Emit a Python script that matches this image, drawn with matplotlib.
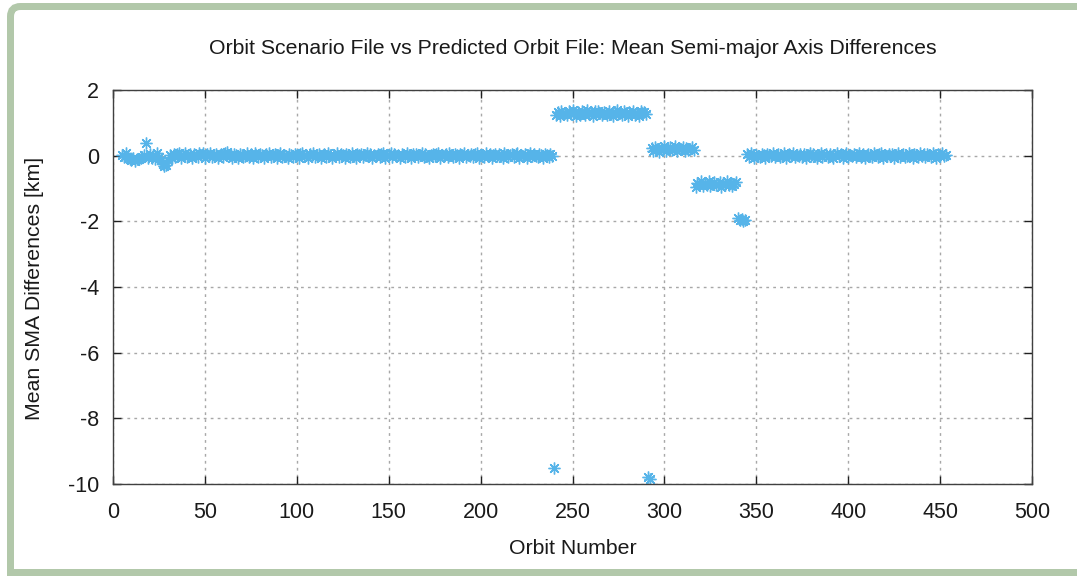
import matplotlib
matplotlib.use("Agg")
import matplotlib.pyplot as plt
from matplotlib.path import Path
from matplotlib.patches import PathPatch

plt.rcParams['font.family'] = ['Liberation Sans', 'DejaVu Sans']
plt.rcParams['axes.unicode_minus'] = False

title = "Orbit Scenario File vs Predicted Orbit File: Mean Semi-major Axis Differences"
xlabel = "Orbit Number"
ylabel = "Mean SMA Differences [km]"

x_ticks = [0, 50, 100, 150, 200, 250, 300, 350, 400, 450, 500]
y_ticks = [2, 0, -2, -4, -6, -8, -10]

# segment start orbits (one value per orbit)
seg_starts = [5, 240, 241, 291, 293, 317, 340, 345]

sma_seg1 = [
    0.02, -0.05, 0.07, -0.08, -0.10, -0.12, -0.06, -0.15, -0.09, -0.11,
    -0.07, -0.03, 0.02, 0.40, -0.08, 0.05, -0.06, 0.03, -0.10, 0.07,
    -0.04, -0.12, -0.24, -0.32, -0.27, -0.14, 0.03, -0.07, 0.06, -0.03,
    0.05, 0.08, -0.06, 0.02, 0.07, -0.05, 0.03, 0.06, -0.07, 0.04,
    0.01, -0.03, 0.07, 0.03, 0.09, -0.06, 0.04, 0.00, 0.08, -0.05,
    0.03, 0.06, -0.07, 0.01, 0.04, -0.03, 0.07, 0.10, -0.02, 0.03,
    -0.06, 0.04, 0.01, -0.08, 0.06, 0.03, -0.05, 0.00, 0.07, -0.03,
    0.04, -0.07, 0.08, 0.01, -0.05, 0.06, 0.03, -0.08, 0.04, 0.00,
    0.07, -0.03, 0.03, 0.06, -0.06, 0.01, 0.08, -0.05, 0.03, 0.00,
    -0.07, 0.04, 0.01, -0.03, 0.06, 0.03, -0.08, 0.04, 0.07, -0.02,
    0.03, -0.06, 0.04, 0.00, 0.08, -0.05, 0.01, 0.06, -0.07, 0.03,
    0.04, -0.03, 0.07, 0.01, -0.06, 0.03, 0.00, 0.08, -0.05, 0.06,
    0.01, -0.07, 0.04, 0.03, -0.03, 0.07, 0.00, -0.06, 0.04, 0.01,
    0.06, -0.05, 0.03, 0.08, -0.02, 0.04, -0.07, 0.03, 0.00, 0.06,
    -0.03, 0.04, 0.07, -0.06, 0.01, 0.03, 0.09, -0.05, 0.06, 0.00,
    0.03, -0.07, 0.04, 0.01, -0.03, 0.07, 0.03, -0.06, 0.04, 0.00,
    0.06, -0.05, 0.01, 0.08, -0.03, 0.04, 0.00, -0.07, 0.03, 0.06,
    -0.02, 0.04, 0.07, -0.06, 0.03, 0.00, 0.04, -0.05, 0.08, 0.01,
    -0.03, 0.06, 0.03, -0.07, 0.04, 0.01, 0.07, -0.05, 0.03, 0.00,
    0.06, -0.03, 0.04, 0.08, -0.06, 0.01, 0.03, -0.05, 0.07, 0.00,
    0.04, -0.07, 0.03, 0.06, -0.02, 0.04, 0.00, -0.06, 0.07, 0.03,
    -0.05, 0.01, 0.06, -0.03, 0.04, 0.08, -0.07, 0.03, 0.00, 0.04,
    -0.06, 0.03, 0.07, -0.02, 0.04, 0.00, -0.05, 0.06, 0.03, -0.07,
    0.04, 0.01, -0.03, 0.06, 0.00,
]
sma_outlier1 = [-9.52]
sma_seg2 = [
    1.24, 1.32, 1.20, 1.37, 1.28, 1.31, 1.23, 1.35, 1.27, 1.38,
    1.29, 1.21, 1.33, 1.25, 1.36, 1.30, 1.24, 1.39, 1.28, 1.32,
    1.20, 1.35, 1.27, 1.37, 1.29, 1.23, 1.33, 1.31, 1.25, 1.36,
    1.28, 1.21, 1.32, 1.38, 1.27, 1.29, 1.24, 1.35, 1.30, 1.22,
    1.33, 1.28, 1.37, 1.25, 1.31, 1.21, 1.36, 1.29, 1.32, 1.27,
]
sma_outlier2 = [-9.80, -9.86]
sma_seg3 = [
    0.23, 0.15, 0.27, 0.19, 0.12, 0.24, 0.17, 0.29, 0.14, 0.21,
    0.25, 0.16, 0.20, 0.28, 0.13, 0.23, 0.19, 0.27, 0.15, 0.24,
    0.17, 0.21, 0.26, 0.16,
]
sma_seg4 = [
    -0.94, -0.83, -0.89, -0.78, -0.92, -0.82, -0.88, -0.77, -0.93, -0.85,
    -0.81, -0.90, -0.86, -0.79, -0.95, -0.83, -0.89, -0.78, -0.88, -0.82,
    -0.92, -0.85, -0.81,
]
sma_seg5 = [-1.90, -1.97, -1.93, -2.00, -1.96]
sma_seg6 = [
    0.04, -0.03, 0.07, 0.01, -0.06, 0.03, 0.00, -0.05, 0.06, 0.01,
    -0.07, 0.04, 0.03, -0.02, 0.07, -0.05, 0.01, 0.06, -0.03, 0.00,
    0.08, -0.06, 0.03, 0.04, -0.02, 0.07, -0.05, 0.01, 0.00, 0.06,
    -0.03, 0.04, -0.07, 0.03, 0.08, -0.02, 0.04, 0.00, -0.06, 0.03,
    0.07, -0.03, 0.01, 0.04, -0.05, 0.06, 0.00, -0.07, 0.03, 0.08,
    -0.02, 0.04, -0.06, 0.01, 0.07, -0.03, 0.03, 0.00, 0.06, -0.05,
    0.01, 0.08, -0.03, 0.04, -0.07, 0.03, 0.06, 0.00, -0.05, 0.07,
    0.01, -0.03, 0.04, 0.08, -0.06, 0.03, 0.00, 0.06, -0.02, 0.04,
    -0.07, 0.03, 0.07, -0.03, 0.01, 0.06, -0.05, 0.00, 0.08, 0.03,
    -0.06, 0.04, 0.01, -0.03, 0.07, 0.00, 0.04, -0.05, 0.06, 0.01,
    -0.03, 0.07, 0.03, -0.06, 0.04, 0.00, 0.08, -0.02, 0.03,
]

segments = [sma_seg1, sma_outlier1, sma_seg2, sma_outlier2,
            sma_seg3, sma_seg4, sma_seg5, sma_seg6]

orbits = []
values = []
for start, seg in zip(seg_starts, segments):
    orbits.extend(range(start, start + len(seg)))
    values.extend(seg)

W, H = 1077, 576
fig = plt.figure(figsize=(W / 100, H / 100), dpi=100)
fig.patch.set_facecolor('white')

ax = fig.add_axes([113 / W, 1 - 484 / H, (1032 - 113) / W, (484 - 90) / H])

ax.plot(orbits, values, linestyle='none', marker=(8, 2, 0), markersize=8.5,
        markeredgewidth=1.0, color='#56b4e9')

ax.set_xlim(0, 500)
ax.set_ylim(-10, 2)
ax.set_xticks(x_ticks)
ax.set_yticks(y_ticks)

ax.grid(True, color='#a8a8a8', linestyle=(0, (2, 3)), linewidth=1.0)
ax.set_axisbelow(True)

for s in ax.spines.values():
    s.set_color('#404040')
    s.set_linewidth(1.0)

ax.tick_params(axis='both', which='major', direction='in', length=6,
               width=1.0, color='#202020', labelsize=15.5, top=True, right=True,
               labelcolor='#1a1a1a')
ax.tick_params(axis='x', pad=13)
ax.tick_params(axis='y', pad=10)

fs = 15.3
fig.text((113 + 1032) / 2 / W, 1 - 48 / H, title, ha='center', va='center',
         fontsize=fs, color='#1a1a1a')
fig.text((113 + 1032) / 2 / W, 1 - 549 / H, xlabel, ha='center', va='center',
         fontsize=fs, color='#1a1a1a')
fig.text(35 / W, 1 - 288 / H, ylabel, ha='center', va='center',
         rotation=90, fontsize=fs, color='#1a1a1a')

# decorative frame (top, left with rounded corner, bottom)
def fx(px):
    return px / W

def fy(py):
    return 1 - py / H

r = 10
verts = [
    (fx(1100), fy(6.5)),
    (fx(10.5 + r), fy(6.5)),
    (fx(10.5), fy(6.5)),
    (fx(10.5), fy(6.5 + r)),
    (fx(10.5), fy(572.5)),
    (fx(1100), fy(572.5)),
]
codes = [Path.MOVETO, Path.LINETO, Path.CURVE3, Path.CURVE3, Path.LINETO, Path.LINETO]
frame = PathPatch(Path(verts, codes), transform=fig.transFigure, fill=False,
                  edgecolor='#b2c8aa', linewidth=7 * 0.72, joinstyle='miter',
                  capstyle='butt')
fig.add_artist(frame)

fig.savefig('out.png', dpi=100, facecolor='white')
